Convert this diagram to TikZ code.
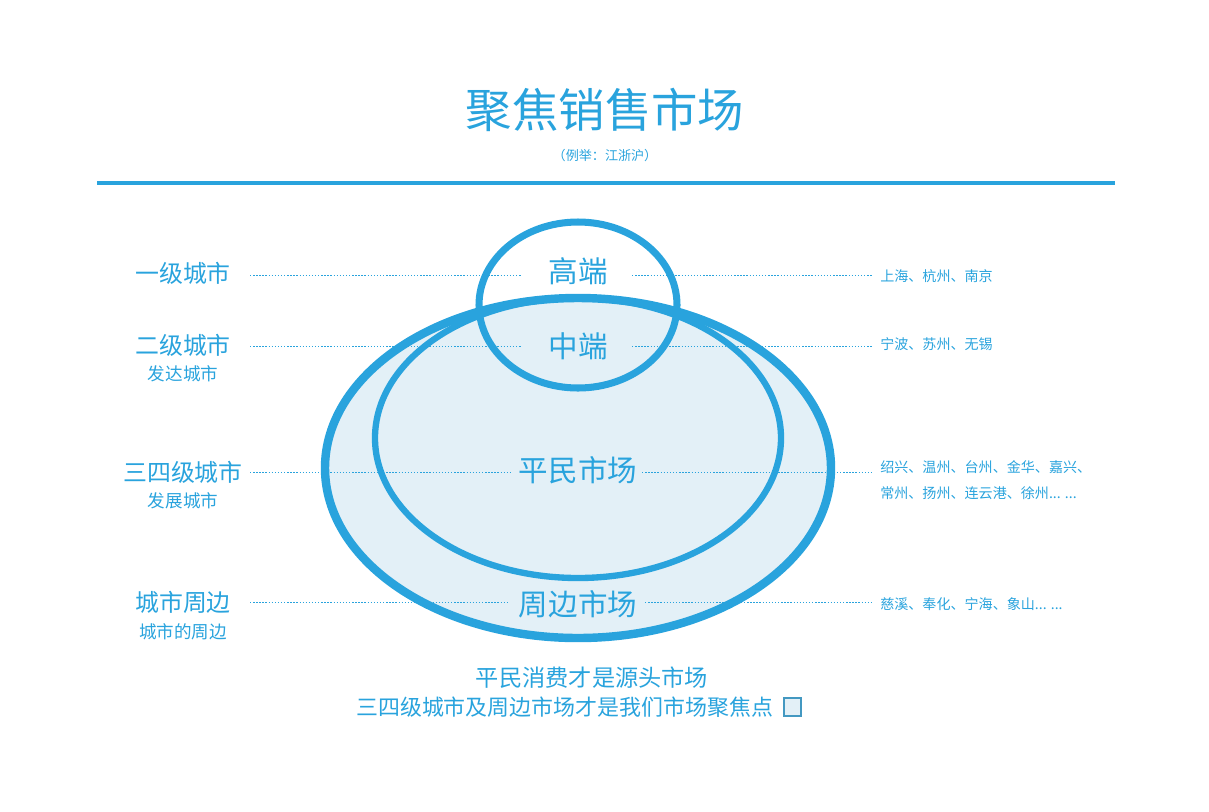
\documentclass[tikz,border=0pt]{standalone}
\usepackage{fontspec}
\setmainfont{Noto Sans CJK SC}
\definecolor{mblue}{HTML}{29A3DD}
\definecolor{mfill}{HTML}{E3F0F7}
\begin{document}
\begin{tikzpicture}[x=0.025cm,y=-0.025cm,
  ring/.style={draw=mblue},
  guide/.style={draw=mblue,line width=0.5pt,dash pattern=on 1pt off 1.2pt},
  lbl/.style={text=mblue,inner sep=0pt,font=\fontsize{17}{17}\selectfont},
  sublbl/.style={text=mblue,inner sep=0pt,font=\fontsize{12.5}{12.5}\selectfont},
  mid/.style={text=mblue,inner sep=0pt,font=\fontsize{21}{21}\selectfont},
  city/.style={text=mblue,inner sep=0pt,anchor=west,align=left,font=\fontsize{10}{18}\selectfont}]
  \useasboundingbox (0,0) rectangle (1209,811);
  % title
  \node[text=mblue,font=\fontsize{33}{33}\selectfont] (title) at (605,110) {聚焦销售市场};
  \node[text=mblue,font=\fontsize{9.3}{9.3}\selectfont] (sub) at (605,156) {（例举：江浙沪）};
  \draw[mblue,line width=2.2pt] (97,183) -- (1115,183);
		
  % ellipses
  \fill[mfill] (578,468) ellipse (253 and 170);
  \draw[ring,line width=6pt] (578,468) ellipse (253 and 170);
  \draw[ring,line width=4.5pt] (578,438) ellipse (203 and 140);
  \draw[ring,line width=5pt] (578,305) ellipse (99 and 83);
		
  % centre labels
  \node[mid] (high) at (578,271) {高端};
  \node[mid] (midm) at (578,346) {中端};
  \node[mid] (mass) at (578,470) {平民市场};
  \node[mid] (edge) at (578,604) {周边市场};
		
  % left labels
  \node[lbl] (l1) at (183,273) {一级城市};
  \node[lbl] (l2) at (183,345) {二级城市};
  \node[sublbl] (l2s) at (183,374) {发达城市};
  \node[lbl] (l3) at (183,472) {三四级城市};
  \node[sublbl] (l3s) at (183,501) {发展城市};
  \node[lbl] (l4) at (183,602) {城市周边};
  \node[sublbl] (l4s) at (183,632) {城市的周边};
		
  % right labels
  \node[city] (r1) at (880,276) {上海、杭州、南京};
  \node[city] (r2) at (880,344) {宁波、苏州、无锡};
  \node[city] (r3) at (880,480) {绍兴、温州、台州、金华、嘉兴、\\常州、扬州、连云港、徐州... ...};
  \node[city] (r4) at (880,604) {慈溪、奉化、宁海、象山... ...};
		
  % guides
  \coordinate (a1) at (250,275); \coordinate (b1) at (873,275);
  \coordinate (a2) at (250,346); \coordinate (b2) at (873,346);
  \coordinate (a3) at (250,472); \coordinate (b3) at (873,472);
  \coordinate (a4) at (250,602); \coordinate (b4) at (873,602);
  \draw[guide] (a1) -- (522,275); \draw[guide] (632,275) -- (b1);
  \draw[guide] (a2) -- (522,346); \draw[guide] (632,346) -- (b2);
  \draw[guide] (a3) -- (510,472); \draw[guide] (642,472) -- (b3);
  \draw[guide] (a4) -- (508,602); \draw[guide] (645,602) -- (b4);
		
  % bottom
  \node[text=mblue,font=\fontsize{16.5}{16.5}\selectfont] (n1) at (592,678) {平民消费才是源头市场};
  \node[text=mblue,font=\fontsize{15.6}{15.6}\selectfont,anchor=east] (n2) at (778,707) {三四级城市及周边市场才是我们市场聚焦点};
  \filldraw[fill=mfill,draw=mblue!70!gray,line width=0.8pt] (784,698) rectangle (801,716);
\end{tikzpicture}
\end{document}
